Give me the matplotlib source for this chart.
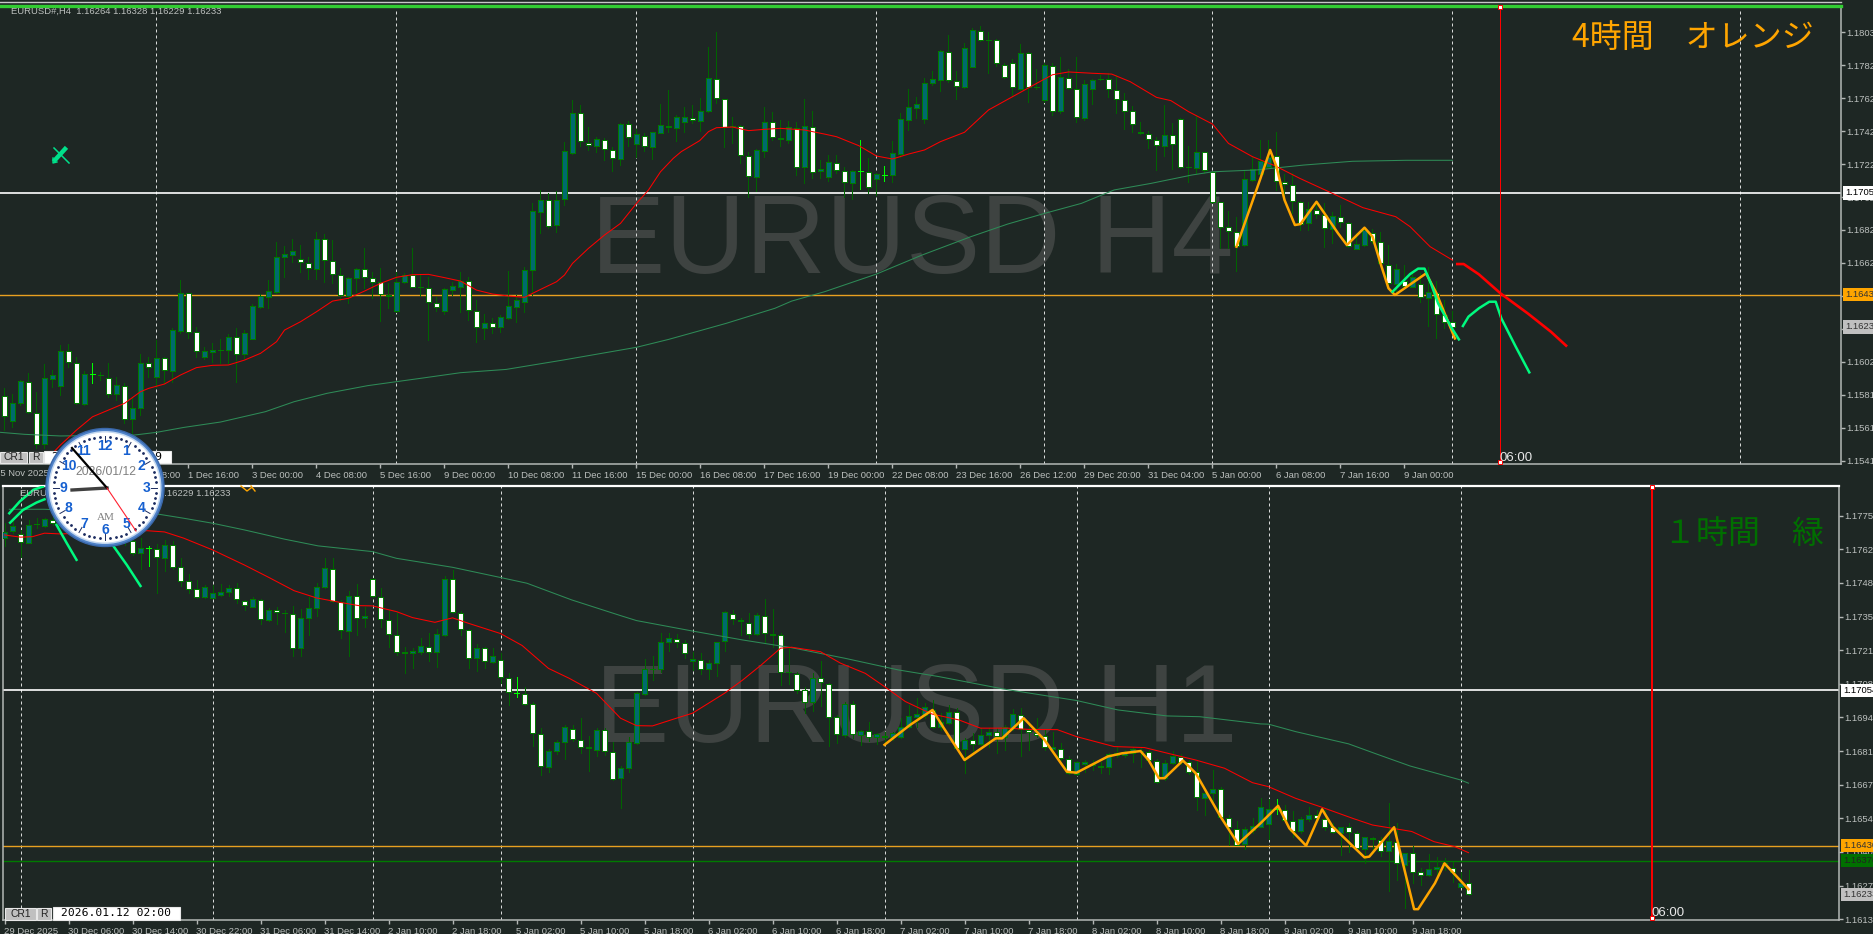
import numpy as np
import matplotlib
matplotlib.use('Agg')
import matplotlib.pyplot as plt
from matplotlib.patches import Circle, Rectangle
from matplotlib.transforms import Affine2D

# prices are in points above 1.00000, so 16233 -> 1.16233
# kinds: w = down candle, t = up candle, d = dark doji, b = bright doji

# ---- H4 panel ----
top_high = [
    15857,15821,15908,15949,15833,16004,15969,16122,16126,16047,
    15965,16010,15959,16010,15925,15888,15807,16065,16051,16152,
    16051,16224,16518,16441,16230,16112,16132,16156,16189,16224,
    16213,16372,16433,16518,16750,16726,16771,16732,16661,16809,
    16799,16763,16590,16539,16590,16714,16569,16590,16498,16569,
    16559,16714,16549,16539,16413,16468,16508,16565,16539,16396,
    16311,16285,16305,16575,16427,16596,16990,17068,17051,17059,
    17361,17617,17584,17454,17389,17383,17328,17474,17489,17438,
    17413,17424,17592,17678,17525,17572,17586,17627,17942,18030,
    17625,17515,17464,17297,17316,17572,17546,17495,17491,17485,
    17625,17550,17251,17281,17281,17206,17190,17373,17265,17173,
    17214,17369,17535,17682,17637,17749,17796,17922,18013,17796,
    17963,18054,18068,18030,17987,17841,17865,17959,17912,17804,
    17841,17841,17881,17804,17881,17739,17743,17769,17784,17769,
    17657,17580,17483,17430,17389,17584,17474,17505,17336,17525,
    17302,17186,16994,16937,16905,17190,17277,17373,17373,17422,
    17165,17169,17001,16996,16996,16986,16935,16976,16874,16803,
    16844,16828,16809,16732,16616,16610,16575,16559,16596,16514,
    16396,16327]
top_low = [
    15603,15623,15756,15705,15491,15491,15868,15817,15990,15762,
    15756,15892,15908,15807,15786,15644,15583,15695,15929,15868,
    15888,15898,16193,16162,16051,16034,16020,16010,16010,15898,
    16040,16156,16346,16346,16437,16535,16630,16569,16523,16523,
    16508,16498,16396,16380,16447,16468,16407,16270,16346,16325,
    16502,16474,16421,16152,16331,16311,16427,16325,16274,16142,
    16156,16193,16203,16278,16264,16325,16427,16803,16834,16813,
    16976,17287,17338,17312,17302,17251,17186,17220,17336,17267,
    17308,17255,17413,17424,17369,17424,17478,17430,17546,17601,
    17332,17352,17234,17023,17064,17271,17373,17336,17352,17159,
    17112,17139,17139,17125,17169,17023,17013,17072,17051,17037,
    17125,17118,17271,17434,17505,17478,17706,17674,17729,17625,
    17688,17816,17979,17784,17826,17749,17647,17678,17603,17682,
    17605,17525,17535,17682,17485,17495,17592,17739,17633,17540,
    17442,17422,17409,17322,17190,17277,17194,17200,17118,17169,
    17169,16986,16712,16712,16575,16726,17123,17159,17210,17068,
    17007,16925,16824,16824,16895,16718,16742,16844,16718,16706,
    16726,16746,16616,16462,16437,16478,16474,16386,16238,16167,
    16224,16230]
top_body_hi = [
    15813,15766,15900,15896,15709,15918,15937,16083,16083,16014,
    15943,15943,15941,15922,15876,15874,15735,16014,16014,16040,
    16040,16213,16437,16437,16199,16085,16089,16089,16169,16169,
    16193,16360,16421,16449,16657,16675,16693,16649,16624,16767,
    16767,16636,16551,16529,16584,16584,16533,16506,16429,16508,
    16549,16549,16478,16472,16380,16461,16482,16512,16512,16331,
    16254,16254,16291,16358,16396,16577,16937,17005,17009,17009,
    17304,17540,17540,17356,17377,17375,17312,17468,17468,17407,
    17399,17420,17462,17460,17511,17511,17509,17548,17749,17747,
    17625,17460,17458,17277,17310,17481,17485,17385,17454,17446,
    17456,17454,17194,17236,17234,17184,17182,17182,17177,17163,
    17161,17291,17499,17572,17590,17718,17743,17914,17912,17735,
    17932,18042,18040,17983,17981,17832,17845,17902,17906,17694,
    17828,17826,17755,17753,17682,17712,17739,17743,17743,17676,
    17619,17548,17424,17411,17375,17405,17405,17503,17206,17297,
    17297,17175,16992,16842,16813,17133,17196,17243,17271,17275,
    17116,17100,16996,16950,16946,16915,16909,16905,16868,16736,
    16824,16807,16752,16612,16584,16514,16539,16494,16443,16441,
    16305,16264]
top_body_lo = [
    15689,15660,15766,15711,15518,15518,15916,15874,16016,15766,
    15762,15943,15941,15821,15823,15668,15668,15739,15988,15925,
    15969,15965,16209,16199,16085,16051,16081,16089,16091,16065,
    16065,16160,16356,16417,16443,16657,16673,16626,16590,16588,
    16638,16553,16429,16421,16529,16535,16508,16431,16419,16331,
    16508,16478,16478,16382,16356,16331,16457,16478,16333,16230,
    16227,16230,16230,16289,16352,16386,16577,16931,16848,16852,
    17011,17295,17367,17342,17338,17318,17261,17259,17391,17350,
    17336,17332,17417,17452,17448,17485,17495,17491,17552,17627,
    17454,17460,17279,17151,17149,17308,17389,17377,17375,17208,
    17206,17177,17182,17149,17190,17114,17112,17182,17084,17137,
    17161,17161,17289,17497,17570,17501,17723,17737,17737,17700,
    17696,17820,17981,17983,17843,17755,17694,17682,17694,17694,
    17615,17550,17552,17690,17511,17509,17682,17743,17682,17623,
    17550,17470,17413,17379,17340,17338,17348,17208,17206,17204,
    17188,16994,16844,16817,16728,16732,17129,17165,17210,17123,
    17104,17001,16860,16868,16921,16836,16832,16872,16726,16710,
    16732,16756,16620,16498,16492,16482,16478,16417,16411,16309,
    16264,16234]
top_kind = ("wttwwtttww" "tbdwtwttwt" "wttwwttdtw" "tttttttwwt" "wwwttwwwtt"
            "twdwwtttww" "twttttttwt" "ttwwtwwtwt" "wttwttwttw" "wdwwttwttw"
            "twttwwtbwt" "btttttttww" "ttwdwwwtwd" "twtwwttdww" "wwwwwtwwdt"
            "wwwwwttttw" "wwwtwwtwwt" "twwwtwtwtw" "ww")

top_red_x = [6,7,9,11,13,15,17,18,20,22,24,26,28,30,32,34,35,37,39,41,
             43,45,47,49,51,53,55,57,59,61,63,65,67,69,70,71,73,75,77,79,
             80.5,82,83.6,84.6,86.9,88,89,91,93,95,97,100,102.5,104,106.8,109,111,113,115,117,
             120,123,126,129,131,133,136,138.4,140.7,144,145.8,148,151,153,156,158.8,161.9,166,169.8,173.9,
             175.7,178.2,181]
top_red_y = [15461,15512,15603,15684,15725,15766,15837,15857,15884,15939,
             15984,15998,16000,16030,16071,16142,16213,16264,16325,16390,
             16407,16451,16498,16535,16551,16553,16533,16512,16457,16433,
             16421,16413,16461,16508,16549,16620,16712,16793,16864,16986,
             17068,17179,17261,17302,17369,17424,17448,17452,17430,17438,
             17444,17434,17409,17393,17338,17275,17257,17287,17312,17363,
             17420,17556,17637,17718,17771,17788,17780,17775,17729,17633,
             17613,17546,17470,17352,17271,17216,17139,17047,16960,16905,
             16844,16722,16640]
top_red2_x = [181.6,182.4,184.3,187,190.4,193.3,195.2]
top_red2_y = [16616,16616,16553,16437,16315,16203,16118]
top_green_x = [-0.5,2.5,7,16.3,19,22.4,27,32.6,36.2,40.3,45.4,52.5,57,62.7,69.8,79,83,87.2,90.2,96.3,
               98.4,102.5,109,114.7,120.8,125.4,130,134.6,138.7,143.3,148.4,151,156.5,162.4,168.5,175.2,181]
top_green_y = [15589,15577,15567,15573,15589,15619,15652,15715,15776,15827,
               15874,15922,15953,15973,16030,16108,16156,16213,16254,16346,
               16390,16447,16555,16671,16783,16860,16925,16986,17068,17108,
               17159,17179,17190,17220,17243,17249,17249]
top_orange_x = [154,157,158.2,159,160,161.3,162,164,165,166.7,167.8,170,171,172,173,173.8,177.7,179,181.3]
top_orange_y = [16722,17139,17312,17210,17007,16854,16860,16996,16925,16803,16732,16838,16783,16620,16468,16427,16559,16437,16162]
top_mint1_x = [173.5,175.7,176.7,177.5,178.3,179.2,180.8,181.8]
top_mint1_y = [16447,16555,16588,16588,16498,16376,16234,16156]
top_mint2_x = [182.3,183,184.3,185.6,186.4,187.1,188.9,190.6]
top_mint2_y = [16238,16295,16346,16386,16386,16285,16112,15955]

top_ticks = [7,15,23,31,39,47,55,63,71,79,87,95,103,111,119,127,135,143,151,159,167,175]
top_tick_labels = ['27 Nov 00:00','28 Nov 08:00','1 Dec 16:00','3 Dec 00:00','4 Dec 08:00','5 Dec 16:00',
                   '9 Dec 00:00','10 Dec 08:00','11 Dec 16:00','15 Dec 00:00','16 Dec 08:00','17 Dec 16:00',
                   '19 Dec 00:00','22 Dec 08:00','23 Dec 16:00','26 Dec 12:00','29 Dec 20:00','31 Dec 04:00',
                   '5 Jan 00:00','6 Jan 08:00','7 Jan 16:00','9 Jan 00:00']
top_seps = [19,49,79,109,130,151,181,217]
top_prices = [1.18030,1.17829,1.17628,1.17427,1.17226,1.17025,1.16824,1.16623,1.16422,1.16221,1.16020,1.15819,1.15618,1.15417]

# ---- H1 panel ----
bot_high = [
    17725,17738,17698,17738,17745,17745,17752,17754,17752,17758,
    17745,17738,17738,17725,17711,17698,17671,17667,17634,17642,
    17658,17655,17584,17521,17495,17477,17477,17481,17477,17484,
    17417,17430,17420,17383,17387,17377,17393,17379,17428,17484,
    17584,17584,17417,17454,17481,17390,17504,17464,17377,17363,
    17229,17223,17263,17283,17299,17513,17537,17374,17302,17240,
    17229,17225,17205,17122,17109,17066,17009,16902,16817,16855,
    16915,16915,16942,16871,16902,16902,16848,16750,16868,17049,
    17179,17192,17283,17283,17280,17254,17209,17205,17176,17247,
    17374,17377,17343,17363,17363,17420,17379,17283,17229,17129,
    17069,17125,17172,17085,16955,17009,17013,16895,16926,16884,
    16888,16888,16942,16995,17022,17002,17015,16962,16995,16982,
    16861,16881,16902,16902,16902,16915,16979,16982,16915,16942,
    16895,16888,16841,16790,16772,16774,16774,16768,16801,16825,
    16814,16828,16828,16814,16777,16774,16812,16798,16774,16774,
    16657,16734,16667,16552,16531,16507,16540,16620,16616,16616,
    16594,16570,16547,16587,16574,16574,16523,16507,16520,16487,
    16466,16466,16466,16600,16520,16402,16429,16339,16397,16383,
    16379,16366,16326,16333]
bot_low = [
    17634,17685,17588,17644,17705,17711,17718,17705,17685,17685,
    17678,17671,17665,17651,17651,17638,17598,17541,17553,17444,
    17533,17543,17473,17446,17425,17426,17424,17433,17433,17406,
    17377,17387,17321,17334,17321,17290,17193,17193,17276,17353,
    17465,17410,17266,17193,17276,17310,17430,17310,17229,17196,
    17125,17142,17199,17173,17149,17274,17363,17276,17145,17133,
    17145,17163,17082,16995,17029,16994,16831,16714,16727,16798,
    16777,16852,16804,16730,16790,16794,16694,16583,16727,16839,
    17035,17096,17126,17212,17229,17185,17136,17120,17098,17112,
    17213,17321,17276,17263,17276,17246,17229,17076,17080,17042,
    16962,16971,16989,16832,16841,16868,16864,16835,16852,16839,
    16848,16855,16861,16902,16908,16942,16902,16895,16918,16820,
    16723,16801,16835,16828,16804,16814,16895,16792,16814,16868,
    16814,16801,16774,16718,16715,16727,16734,16723,16718,16788,
    16788,16765,16745,16761,16683,16694,16758,16758,16718,16574,
    16553,16600,16540,16433,16432,16418,16480,16504,16456,16557,
    16529,16466,16480,16531,16533,16493,16480,16393,16406,16413,
    16359,16402,16389,16246,16292,16179,16279,16272,16308,16312,
    16333,16286,16263,16231]
bot_body_hi = [
    17691,17714,17682,17717,17721,17741,17738,17738,17738,17738,
    17732,17725,17718,17705,17698,17685,17655,17624,17624,17623,
    17639,17639,17551,17491,17461,17468,17444,17448,17464,17466,
    17414,17420,17416,17375,17378,17366,17362,17343,17383,17468,
    17544,17543,17409,17432,17434,17351,17501,17430,17337,17278,
    17209,17211,17231,17228,17279,17500,17499,17366,17298,17225,
    17225,17191,17176,17105,17042,17039,16997,16880,16812,16848,
    16906,16900,16856,16827,16893,16893,16808,16741,16845,17042,
    17141,17141,17247,17263,17262,17242,17179,17176,17163,17247,
    17367,17362,17338,17326,17355,17354,17282,17278,17126,17121,
    17055,17105,17104,17080,16948,16999,16999,16892,16891,16879,
    16871,16881,16908,16952,16958,16985,16975,16928,16968,16968,
    16853,16853,16876,16885,16888,16908,16958,16955,16893,16884,
    16871,16825,16820,16780,16765,16765,16760,16750,16797,16801,
    16801,16817,16812,16808,16772,16761,16792,16788,16766,16726,
    16643,16657,16659,16540,16497,16496,16509,16587,16576,16576,
    16574,16529,16536,16555,16553,16536,16504,16504,16503,16482,
    16464,16462,16453,16449,16446,16399,16402,16326,16335,16343,
    16359,16341,16279,16282]
bot_body_lo = [
    17665,17694,17650,17647,17714,17715,17725,17714,17705,17701,
    17691,17687,17678,17671,17665,17658,17607,17607,17624,17591,
    17587,17551,17493,17460,17430,17430,17426,17437,17449,17420,
    17395,17390,17341,17337,17367,17366,17223,17223,17343,17383,
    17468,17414,17296,17294,17345,17343,17432,17341,17279,17208,
    17204,17203,17209,17207,17209,17278,17367,17299,17183,17185,
    17171,17168,17106,17047,17042,16998,16881,16749,16745,16810,
    16848,16857,16828,16821,16814,16809,16699,16702,16741,16841,
    17038,17138,17138,17247,17246,17203,17171,17141,17138,17163,
    17250,17341,17333,17280,17279,17283,17276,17128,17126,17055,
    17007,17006,17088,16947,16877,16873,16877,16876,16868,16865,
    16867,16868,16865,16908,16948,16955,16907,16906,16922,16824,
    16820,16839,16837,16875,16872,16868,16902,16897,16887,16876,
    16825,16817,16781,16723,16718,16760,16753,16744,16745,16794,
    16793,16801,16812,16774,16687,16701,16761,16768,16726,16624,
    16620,16640,16544,16504,16434,16437,16491,16507,16517,16576,
    16533,16489,16487,16539,16540,16507,16484,16482,16484,16420,
    16417,16457,16409,16409,16359,16351,16326,16312,16312,16335,
    16359,16326,16266,16235]
bot_kind = ("ttwtdtwtwt" "wtwtwtwtbw" "twwwwttttw" "wtwtwdwttt" "twwtwtwwww"
            "wttwttwwwt" "wtwwbwwwtt" "twwwtwwttt" "ttttwwtwtt" "twwwtwwwdw"
            "wtwwwtwtwt" "wtttttwttw" "twttwttwww" "wtwwttwwtt" "ttdwwttwww"
            "ttwwwttttb" "wwttwwwtww" "twwtwtwwtt" "dwtw")

bot_red_x = [0,2,3.5,5,7,17.8,20,22.4,26,30,33,36.2,39,41.8,44.3,46,49,51,53.8,56,
             58,62,64.7,68,70.6,74,77,79,81,84,86,90,92.3,94.6,97,98.4,102,104.5,107.6,110,
             112.6,115.9,119.3,122,125.4,128,131.6,134,138.7,142.5,145.8,148.9,152.5,156,158,161.4,164.7,168.5,171,175.9,
             178.7,181.3,183]
bot_red_y = [17678,17669,17671,17685,17682,17695,17690,17665,17618,17557,
             17508,17454,17425,17408,17394,17393,17370,17346,17327,17345,
             17323,17282,17234,17142,17102,17042,16942,16912,16911,16942,
             16962,17042,17096,17156,17223,17227,17209,17163,17122,17069,
             17009,16959,16935,16902,16902,16897,16896,16868,16828,16824,
             16798,16774,16741,16683,16667,16620,16584,16540,16513,16487,
             16446,16426,16402]
bot_green_x = [0.6,5,19.3,22.4,26,30,35,39.2,46,49,56,62,65.3,70.9,77,79,86,92.3,98.4,105,
               111.7,116.8,124.9,134,139.2,145.3,149.4,157,158,161.4,168,171.6,175.7,182,183]
bot_green_y = [17781,17781,17761,17745,17725,17698,17661,17634,17611,17584,
               17548,17507,17484,17417,17354,17334,17292,17256,17225,17183,
               17136,17109,17059,17013,16975,16951,16948,16919,16918,16888,
               16839,16797,16750,16694,16681]
bot_orange_x = [110,113.2,116,117.3,120,123.9,124.7,127.4,130,132.8,
                134,137.9,139.7,142,143,144.3,145,147.3,148.9,152,
                154.2,157,159.2,160.6,162.7,164.7,166,170,170.6,173.7,
                176.2,176.7,178.8,180,183]
bot_orange_y = [16835,16915,16975,16908,16774,16861,16861,16942,16855,16727,
                16723,16788,16801,16810,16774,16701,16701,16772,16721,16547,
                16437,16520,16590,16500,16430,16576,16507,16383,16386,16504,
                16175,16175,16279,16359,16255]
bot_mint_a_x = [0.6,1.9,3.6,4.8]
bot_mint_a_y = [17765,17812,17859,17872]
bot_mint_b_x = [0.7,2.3,4,5]
bot_mint_b_y = [17727,17778,17808,17821]
bot_mint_c_x = [6.5,7.8,9]
bot_mint_c_y = [17718,17644,17578]
bot_mint_d_x = [13.6,15.3,17]
bot_mint_d_y = [17634,17557,17473]

bot_ticks = [0,8,16,24,32,40,48,56,64,72,80,88,96,104,112,120,128,136,144,152,160,168,176]
bot_tick_labels = ['29 Dec 2025','30 Dec 06:00','30 Dec 14:00','30 Dec 22:00','31 Dec 06:00','31 Dec 14:00',
                   '2 Jan 10:00','2 Jan 18:00','5 Jan 02:00','5 Jan 10:00','5 Jan 18:00','6 Jan 02:00',
                   '6 Jan 10:00','6 Jan 18:00','7 Jan 02:00','7 Jan 10:00','7 Jan 18:00','8 Jan 02:00',
                   '8 Jan 10:00','8 Jan 18:00','9 Jan 02:00','9 Jan 10:00','9 Jan 18:00']
bot_seps = [2,26,46,62,86,110,134,158,182]
bot_prices = [1.17755,1.17620,1.17485,1.17350,1.17215,1.17080,1.16945,1.16810,1.16675,1.16540,1.16405,1.16270,1.16135]

bg = '#1e2724'
axis_col = '#b4b8b6'
text_col = '#bcc0be'
font = 'Liberation Sans'
PX = 0.72  # one pixel at dpi 100, in points


def price(v):
    return 1.0 + np.array(v) / 1e5


def draw_candles(ax, high, low, body_hi, body_lo, kind):
    n = len(kind)
    x = np.arange(n)
    high, low, body_hi, body_lo = price(high), price(low), price(body_hi), price(body_lo)
    for k, col in (('w', '#006400'), ('t', '#006400'), ('d', '#006400'), ('b', '#00ff00')):
        i = [j for j in range(n) if kind[j] == k]
        ax.vlines(x[i], low[i], high[i], color=col, lw=PX, zorder=3, antialiased=False)
    for k, col in (('w', 'white'), ('t', '#006a6e')):
        i = [j for j in range(n) if kind[j] == k]
        ax.bar(x[i], body_hi[i] - body_lo[i], 0.58, bottom=body_lo[i], color=col,
               edgecolor='#007a00', linewidth=PX, zorder=4, antialiased=False)
    for k, col in (('d', '#007a00'), ('b', '#00ff00')):
        i = np.array([j for j in range(n) if kind[j] == k])
        ax.hlines(body_hi[i], x[i] - 0.35, x[i] + 0.35, color=col, lw=PX, zorder=4, antialiased=False)


def setup_axis(ax, ticks, labels, prices):
    ax.set_facecolor(bg)
    ax.set_xticks(ticks)
    ax.set_xticklabels(labels, ha='left', fontsize=6.8, color=text_col, family=font)
    ax.set_yticks(prices)
    ax.set_yticklabels(['%.5f' % p for p in prices], fontsize=6.8, color=text_col, family=font)
    ax.yaxis.tick_right()
    ax.tick_params(axis='x', length=3, width=1, color=axis_col, pad=2)
    ax.tick_params(axis='y', length=3, width=1, color=axis_col, pad=0.6)
    for s in ax.spines.values():
        s.set_color(axis_col)
        s.set_linewidth(1.1)


def price_box(ax, p, fc, tc='black'):
    ax.text(1.0022, p, '%.5f' % p, transform=ax.get_yaxis_transform(), va='center', ha='left',
            fontsize=6.8, family=font, color=tc, zorder=20, clip_on=False,
            bbox=dict(fc=fc, ec='none', pad=1.6))


W, H = 1874, 934
fig = plt.figure(figsize=(W / 100, H / 100), dpi=100, facecolor=bg)
to_px = Affine2D().scale(1, -1).translate(0, H)  # image pixels -> display


def panel(left, top, right, bottom):
    return fig.add_axes([left / W, 1 - bottom / H, (right - left) / W, (bottom - top) / H])


# ---- top panel ----
ax1 = panel(0, 6, 1841, 464)
ax1.set_xlim(-4.5 / 8, (1841 - 4.5) / 8)
ax1.set_ylim(1.1803 - (464 - 32.3) / 16389, 1.1803 + (32.3 - 6) / 16389)
setup_axis(ax1, top_ticks, top_tick_labels, top_prices)
ax1.spines['left'].set_visible(False)
ax1.spines['top'].set_color('#32cd32')
ax1.spines['top'].set_linewidth(2.4)

ax1.text(599 - 8, 273, 'EURUSD H4', transform=to_px, fontsize=80, color='#3e4341', family=font,
         va='baseline', ha='left', zorder=0)
for s in top_seps:
    ax1.axvline(s, color='#d8dad9', lw=PX, ls=(0, (3, 3)), zorder=1, ymax=0.995)
ax1.axhline(1.1705, color='white', lw=1.2, zorder=2)
ax1.axhline(1.1643, color='#e8a020', lw=1.0, zorder=2)
draw_candles(ax1, top_high, top_low, top_body_hi, top_body_lo, top_kind)
ax1.plot(top_green_x, price(top_green_y), color='#2e8b57', lw=0.75, zorder=5)
ax1.plot(top_red_x, price(top_red_y), color='#ff0000', lw=0.75, zorder=5)
ax1.plot(top_red2_x, price(top_red2_y), color='#ff0000', lw=1.9, zorder=6)
ax1.plot(top_orange_x, price(top_orange_y), color='#ffa500', lw=1.8, zorder=7)
ax1.plot(top_mint1_x, price(top_mint1_y), color='#00fa7f', lw=1.8, zorder=8)
ax1.plot(top_mint2_x, price(top_mint2_y), color='#00fa7f', lw=1.8, zorder=8)
ax1.axvline(187, color='#ff0000', lw=PX, zorder=9)
ax1.plot([187, 187], [1.1803 + 26.3 / 16389 - 0.00005, 1.1803 - (462 - 32.3) / 16389], ls='none', marker='s',
         ms=3, mfc='white', mec='#ff0000', mew=0.7, zorder=10, clip_on=False)
ax1.text(1500, 461, '06:00', transform=to_px, fontsize=9.5, color='#e8e8e8', family=font, va='baseline', zorder=10)
ax1.text(1572, 38, '4時間\u3000オレンジ', transform=to_px, fontsize=23, color='#ffa500',
         family=['Noto Sans CJK JP', 'DejaVu Sans'], va='center', zorder=10)
ax1.text(11, 11, 'EURUSD#,H4  1.16264 1.16328 1.16229 1.16233', transform=to_px, fontsize=6.8,
         color=text_col, family=font, va='center', zorder=10)
price_box(ax1, 1.1705, 'white')
price_box(ax1, 1.1643, '#ffa500', '#333333')
price_box(ax1, 1.16233, '#c0c0c0', '#333333')

# ---- bottom panel ----
ax2 = panel(3, 486, 1839, 920)
ax2.set_xlim(-1.5 / 8, (1839 - 4.5) / 8)
ax2.set_ylim(1.17054 - (920 - 690.3) / 24900, 1.17054 + (690.3 - 486) / 24900)
setup_axis(ax2, bot_ticks, bot_tick_labels, bot_prices)
ax2.spines['top'].set_color('white')
ax2.spines['top'].set_linewidth(1.6)

ax2.text(603 - 8, 742, 'EURUSD H1', transform=to_px, fontsize=80, color='#3e4341', family=font,
         va='baseline', ha='left', zorder=0)
for s in bot_seps:
    ax2.axvline(s, color='#d8dad9', lw=PX, ls=(0, (3, 3)), zorder=1)
ax2.axhline(1.17054, color='white', lw=1.2, zorder=2)
ax2.axhline(1.1643, color='#e8a020', lw=1.0, zorder=2)
ax2.axhline(1.1637, color='#007a00', lw=1.0, zorder=2)
draw_candles(ax2, bot_high, bot_low, bot_body_hi, bot_body_lo, bot_kind)
ax2.plot(bot_green_x, price(bot_green_y), color='#2e8b57', lw=0.75, zorder=5)
ax2.plot(bot_red_x, price(bot_red_y), color='#ff0000', lw=0.75, zorder=5)
ax2.plot(bot_orange_x, price(bot_orange_y), color='#ffa500', lw=1.8, zorder=7)
for mx, my in ((bot_mint_a_x, bot_mint_a_y), (bot_mint_b_x, bot_mint_b_y),
               (bot_mint_c_x, bot_mint_c_y), (bot_mint_d_x, bot_mint_d_y)):
    ax2.plot(mx, price(my), color='#00fa7f', lw=1.8, zorder=8)
ax2.axvline(205.9, color='#ff0000', lw=1.4, zorder=9)
ax2.plot([205.9, 205.9], [1.17054 + (690.3 - 487) / 24900, 1.17054 - (918 - 690.3) / 24900], ls='none', marker='s',
         ms=3, mfc='white', mec='#ff0000', mew=0.7, zorder=10, clip_on=False)
ax2.text(1652, 916, '06:00', transform=to_px, fontsize=9.5, color='#e8e8e8', family=font, va='baseline', zorder=10)
ax2.text(1664, 534, '１時間\u3000緑', transform=to_px, fontsize=23, color='#006f00',
         family=['Noto Sans CJK JP', 'DejaVu Sans'], va='center', zorder=10)
ax2.text(20, 493, 'EURUSD#,H1  1.16264 1.16328 1.16229 1.16233', transform=to_px, fontsize=6.8,
         color=text_col, family=font, va='center', zorder=10)
price_box(ax2, 1.17054, 'white')
price_box(ax2, 1.1643, '#ffa500', '#333333')
price_box(ax2, 1.1637, '#007000', '#222222')
price_box(ax2, 1.16233, '#c0c0c0', '#333333')

# ---- things that sit over both panels: buttons, marker, clock ----
ov = fig.add_axes([0, 0, 1, 1], zorder=10)
ov.set_xlim(0, W)
ov.set_ylim(H, 0)
ov.axis('off')
ov.patch.set_alpha(0)


def button(x0, y0, x1, y1, s, fc='#c0c0c0', fam=font, size=7.4, tc='#222222'):
    ov.add_patch(Rectangle((x0, y0), x1 - x0, y1 - y0, fc=fc, ec='#e8e8e8', lw=0.8))
    ov.text((x0 + x1) / 2, (y0 + y1) / 2, s, ha='center', va='center', fontsize=size, family=fam, color=tc)


ov.plot([0, 1841], [2.2, 2.2], color='#c8c8c8', lw=1)
ov.text(49, 473, '25 Nov 2025', ha='right', va='center', fontsize=6.8, color=text_col, family=font)
button(0, 452, 27, 463, 'CR1')
button(29, 452, 43, 463, 'R')
button(44, 451, 171, 463, '2026.01.12 00:09', fc='white', fam='DejaVu Sans Mono', size=8.2, tc='black')
button(5, 908, 36, 920, 'CR1')
button(37, 908, 51, 920, 'R')
button(53, 907, 180, 920, '2026.01.12 02:00', fc='white', fam='DejaVu Sans Mono', size=8.2, tc='black')
ov.plot([241, 247, 251], [486, 491, 488], color='#ffa500', lw=1)
ov.plot([251, 255], [486, 491], color='#ffa500', lw=1)

# little pen marker in the H4 panel
ov.plot([54, 69], [148, 163], color='#00e08a', lw=1.1)
ov.plot([65, 55], [149, 160], color='#00e08a', lw=3.2)
ov.plot([53, 53, 57], [158, 163, 162], color='#00e08a', lw=1)

cx, cy = 105, 487.5
ov.add_patch(Circle((cx, cy), 59, fc='#4f82c8', ec='#3a68aa', lw=1, zorder=20))
ov.add_patch(Circle((cx, cy), 56.5, fc='#c4d8f0', ec='none', zorder=21))
ov.add_patch(Circle((cx, cy), 55, fc='white', ec='none', zorder=22))
for m in range(60):
    a = np.radians(m * 6)
    sx, sy = np.sin(a), -np.cos(a)
    if m % 5 == 0:
        ov.plot([cx + 46 * sx, cx + 52 * sx], [cy + 46 * sy, cy + 52 * sy], color='#1c2c60', lw=0.7, zorder=23)
    else:
        ov.plot(cx + 51 * sx, cy + 51 * sy, 'o', color='#1c2c60', ms=1.0, zorder=23)
for h in range(1, 13):
    a = np.radians(h * 30)
    ov.text(cx + 42 * np.sin(a), cy - 42 * np.cos(a), str(h), ha='center', va='center', fontsize=10,
            fontweight='bold', color='#1660d0', family=font, zorder=24)
ov.text(106, 472, '2026/01/12', ha='center', va='center', fontsize=8.8, color='#808080', family=font, zorder=24)
ov.text(106, 518, 'AM', ha='center', va='center', fontsize=8, color='#808080', family='Liberation Serif', zorder=24)
ov.plot([107, 72], [488, 490], color='#404040', lw=2.4, zorder=25)
ov.plot([107, 72], [488, 448], color='black', lw=1.6, zorder=26)
ov.plot([107, 136], [488, 531], color='#ff2030', lw=0.8, zorder=27)

fig.savefig('out.png', dpi=100, facecolor=bg)
